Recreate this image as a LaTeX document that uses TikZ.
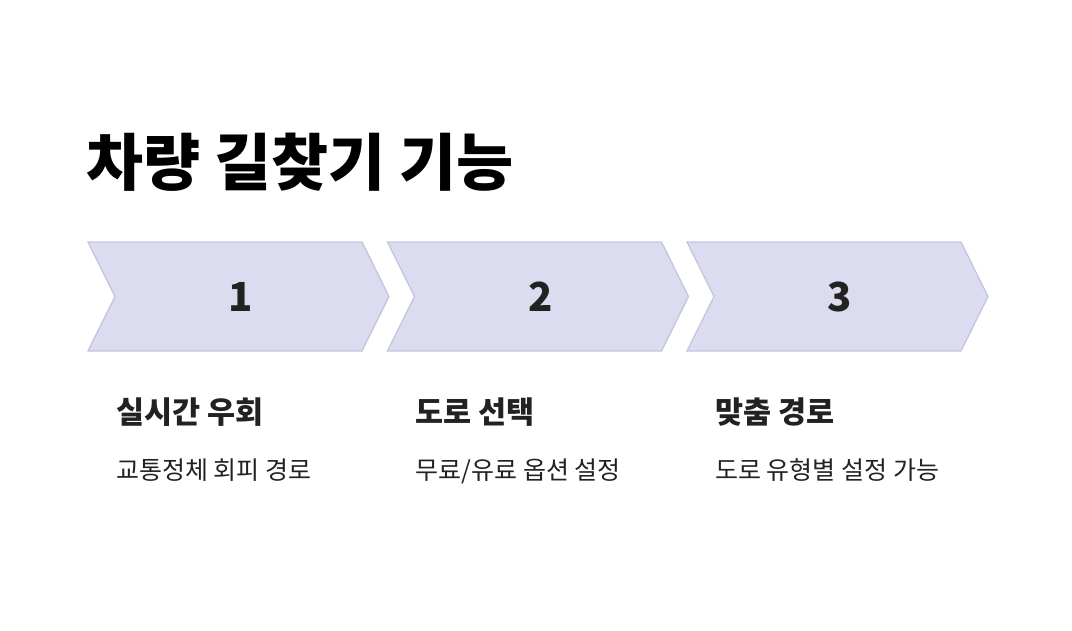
\documentclass[tikz,border=0pt]{standalone}
\usepackage{fontspec}
\setmainfont{Noto Sans CJK KR}
\definecolor{chevfill}{RGB}{220,220,240}
\definecolor{chevline}{RGB}{196,196,222}
\definecolor{txt}{RGB}{34,34,34}
\tikzset{
  chev/.style={fill=chevfill,draw=chevline,line width=1.3pt,line join=miter},
  numtxt/.style={inner sep=0pt,anchor=base,font=\fontsize{40}{44}\selectfont\bfseries,text=txt},
  headtxt/.style={inner sep=0pt,anchor=base west,font=\fontsize{30.5}{34}\selectfont\bfseries,text=txt},
  subtxt/.style={inner sep=0pt,anchor=base west,font=\fontsize{25}{29}\selectfont,text=txt},
}
\begin{document}
\begin{tikzpicture}[x=1pt,y=-1pt]
\useasboundingbox (0,0) rectangle (1072,630);
\node[inner sep=0pt,anchor=base west,font=\fontsize{62}{66}\selectfont\bfseries,text=black] (title) at (86,185) {차량 길찾기 기능};
\foreach \i/\x in {1/88, 2/387.5, 3/687}{
  \draw[chev] (\x,242) -- (\x+274,242) -- (\x+301,296.5) -- (\x+274,351) -- (\x,351) -- (\x+27,296.5) -- cycle;
  \node[numtxt] (num\i) at (\x+153,311) {\i};
}
\node[headtxt] (head1) at (116,423) {실시간 우회};
\node[subtxt] (sub1) at (116,479) {교통정체 회피 경로};
\node[headtxt] (head2) at (415.5,423) {도로 선택};
\node[subtxt] (sub2) at (415.5,479) {무료/유료 옵션 설정};
\node[headtxt] (head3) at (715,423) {맞춤 경로};
\node[subtxt] (sub3) at (715,479) {도로 유형별 설정 가능};
\end{tikzpicture}
\end{document}
